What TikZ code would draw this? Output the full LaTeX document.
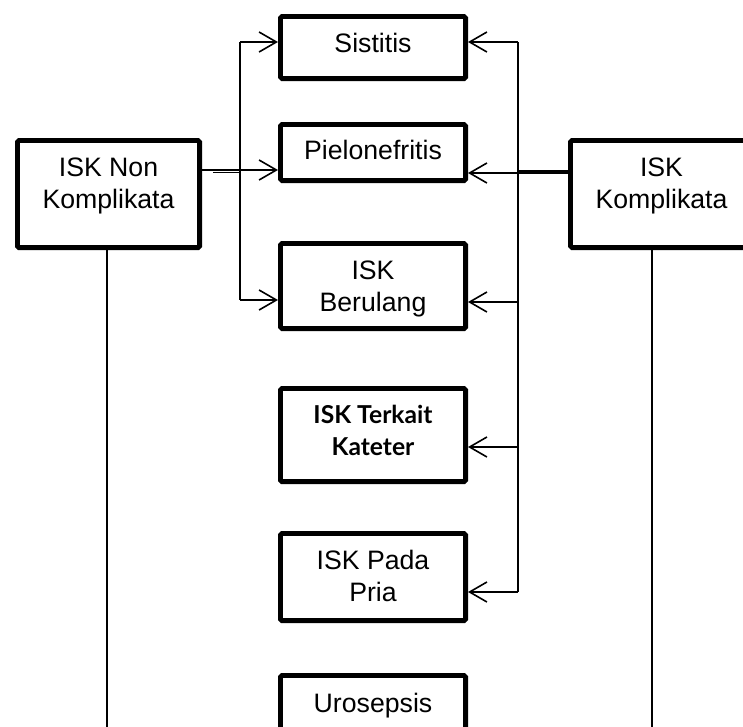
\documentclass[tikz,border=0pt]{standalone}
\usepackage{fontspec}
\setmainfont{Liberation Sans}
\newfontfamily\katfont{Lato}
\usetikzlibrary{arrows.meta}
\tikzset{
  box/.style={draw=black, line width=3.6pt, fill=white, rounded corners=1.2pt, inner sep=0pt, minimum width=138.9pt},
  txt/.style={font=\fontsize{20}{24}\selectfont, align=center, inner sep=0pt},
  ktxt/.style={font=\katfont\bfseries\fontsize{18.5}{24}\selectfont, align=center, inner sep=0pt},
  conn/.style={draw=black, line width=1.2pt},
  arr/.style={conn, -{Straight Barb[length=13pt,width=15pt]}}
}
\begin{document}
\begin{tikzpicture}[x=0.75pt, y=-0.75pt]
\useasboundingbox (0,0) rectangle (743,726);
\clip (0,0) rectangle (743,726);
\fill[white] (0,0) rectangle (743,726);

% boxes
\node[box, minimum height=46.65pt] (sis) at (373,47.5) {};
\node[box, minimum height=42.15pt] (pie) at (373,152.5) {};
\node[box, minimum height=63.9pt]  (ber) at (373,286) {};
\node[box, minimum height=69.9pt]  (ter) at (373,435) {};
\node[box, minimum height=65.4pt]  (pri) at (373,577) {};
\node[box, minimum height=63.9pt]  (uro) at (373,718) {};
\node[box, minimum width=136.65pt, minimum height=80.4pt] (nk) at (108.5,194) {};
\node[box, minimum width=136.65pt, minimum height=80.4pt] (k)  at (661.5,194) {};

% texts
\node[txt, anchor=base] (tsis) at (373,52) {Sistitis};
\node[txt, anchor=base] (tpie) at (373,159) {Pielonefritis};
\node[txt] (tber) at (373,289) {ISK\\Berulang};
\node[ktxt] (tter) at (373,430) {ISK Terkait\\Kateter};
\node[txt] (tpri) at (373,576) {ISK Pada\\Pria};
\node[txt, anchor=base] (turo) at (373,712) {Urosepsis};
\node[txt] (tnk) at (108.5,186) {ISK Non\\Komplikata};
\node[txt] (tk) at (661.5,186) {ISK\\Komplikata};

% left connectors
\coordinate (lj1) at (240,42);
\coordinate (lj2) at (240,300);
\coordinate (ly) at (0,170);
\draw[arr] (lj1) -- (sis.west |- lj1);
\draw[conn] (lj1) -- (lj2);
\draw[arr] (lj2) -- (ber.west |- lj2);
\draw[arr] (nk.east |- ly) -- (pie.west |- ly);
\coordinate (ld1) at (213,172.5);
\coordinate (ld2) at (240,172.5);
\draw[conn] (ld1) -- (ld2);

% right connectors
\coordinate (r1) at (518,42);
\coordinate (r2) at (518,173);
\coordinate (r3) at (518,302);
\coordinate (r4) at (518,447);
\coordinate (r5) at (518,592);
\draw[conn] (r1) -- (r5);
\draw[arr] (r1) -- (sis.east |- r1);
\draw[arr] (k.west |- r2) -- (pie.east |- r2);
\draw[arr] (r3) -- (ber.east |- r3);
\draw[arr] (r4) -- (ter.east |- r4);
\draw[arr] (r5) -- (pri.east |- r5);
\coordinate (rd1) at (518,170.8);
\draw[conn] (rd1) -- (k.west |- rd1);

% long verticals
\coordinate (nb) at (107,730);
\coordinate (kb) at (652,730);
\draw[conn] (nk.south -| nb) -- (nb);
\draw[conn] (k.south -| kb) -- (kb);
\end{tikzpicture}
\end{document}
